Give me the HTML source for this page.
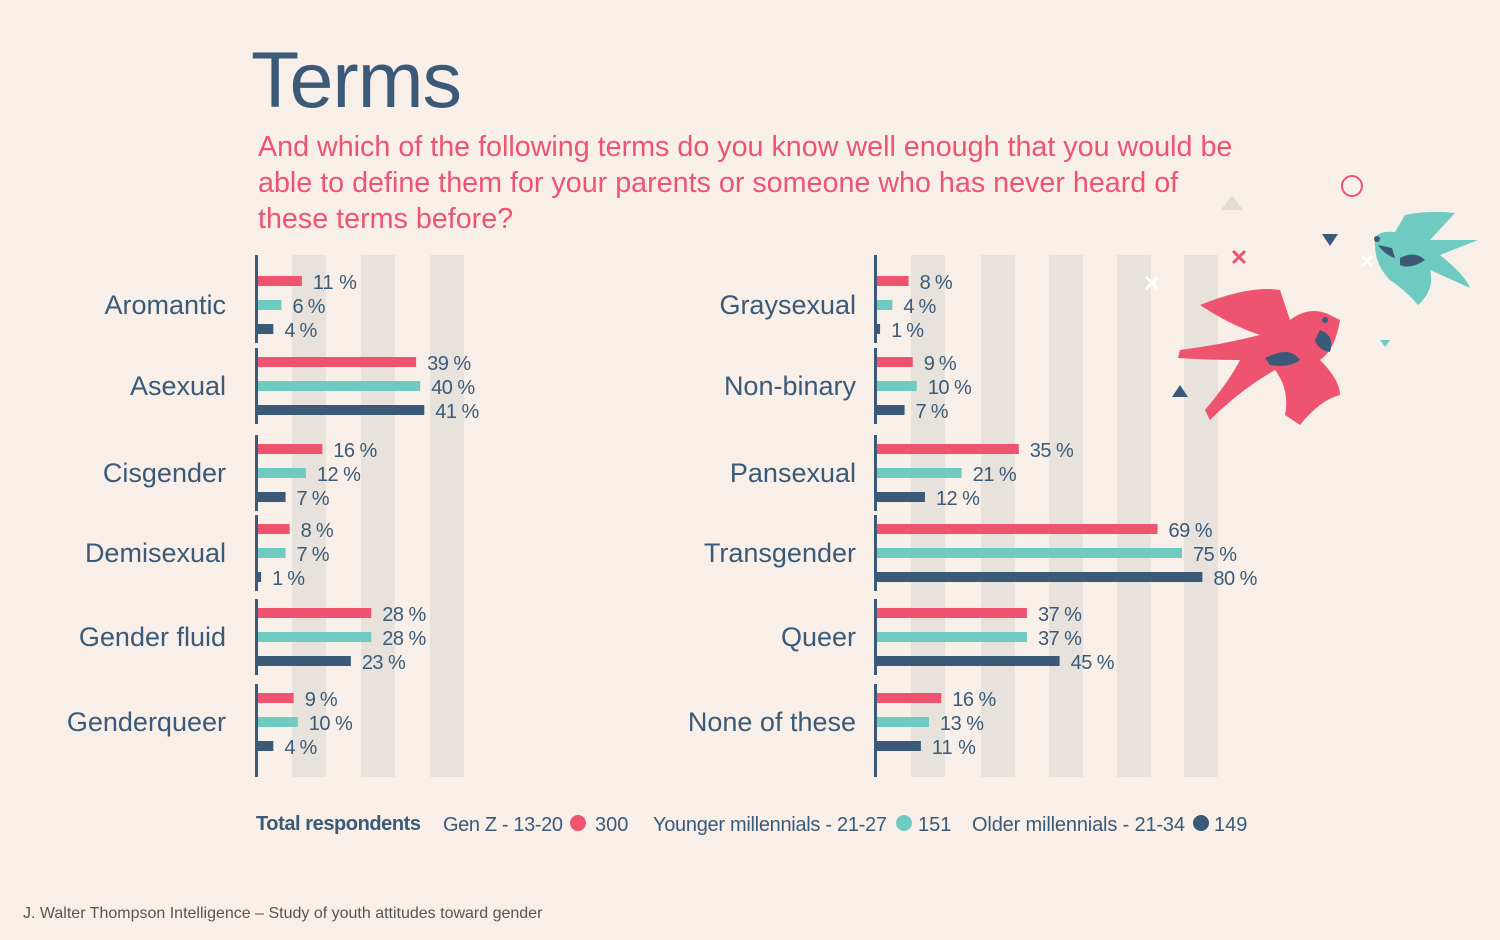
<!DOCTYPE html>
<html><head><meta charset="utf-8">
<style>
body{margin:0;background:#f9efe9;}
#root{position:relative;width:1500px;height:940px;background:#f9efe9;font-family:"Liberation Sans",sans-serif;overflow:hidden;}
.t{position:absolute;white-space:nowrap;}
</style></head><body>
<div id="root">
<div class="t" style="left:251px;top:34px;font-size:79px;color:#3a5a78;letter-spacing:-1px;">Terms</div>
<div class="t" style="left:258px;top:129px;font-size:28.7px;line-height:36px;color:#ee5470;">And which of the following terms do you know well enough that you would be<br>able to define them for your parents or someone who has never heard of<br>these terms before?</div>
<svg id="chart" width="1500" height="940" style="position:absolute;left:0;top:0;"></svg>
<div class="t" style="left:23px;top:905px;font-size:16px;color:#555;">J. Walter Thompson Intelligence – Study of youth attitudes toward gender</div>
</div>
<script>
const leftCats=["Aromantic","Asexual","Cisgender","Demisexual","Gender fluid","Genderqueer"];
const leftGenZ=[11,39,16,8,28,9];
const leftYoung=[6,40,12,7,28,10];
const leftOld=[4,41,7,1,23,4];
const rightCats=["Graysexual","Non-binary","Pansexual","Transgender","Queer","None of these"];
const rightGenZ=[8,9,35,69,37,16];
const rightYoung=[4,10,21,75,37,13];
const rightOld=[1,7,12,80,45,11];
const legendLabels=["Gen Z - 13-20","Younger millennials - 21-27","Older millennials - 21-34"];
const legendCounts=[300,151,149];

const NS="http://www.w3.org/2000/svg";
const svg=document.getElementById('chart');
const COL=["#ee5470","#6fcbc2","#3a5a78"];
const groupY=[305,386,473,553,637,722];
const PX=4.08;
function mk(tag,attrs){const e=document.createElementNS(NS,tag);for(const k in attrs)e.setAttribute(k,attrs[k]);svg.appendChild(e);return e;}
function xs(x0,v){return x0+v*PX;}
[[292,361,430],[911,981,1049,1117,1184]].forEach(arr=>arr.forEach(bx=>{
 const r=mk('rect',{x:bx,y:255,width:34,height:522,fill:'#e7e2dc'});
 
 
}));
function panel(x0,cats,series,labelRight){
 cats.forEach((c,i)=>{
  const gy=groupY[i];
  const top=i===0?255:gy-38, bot=i===cats.length-1?777:gy+38;
  const ax=mk('rect',{x:x0-2,y:top,width:3,height:bot-top,fill:'#3a5a78'});
  
  
  const tl=mk('text',{x:labelRight,y:gy+9,'text-anchor':'end','font-size':27,fill:'#3a5a78','font-family':'Liberation Sans, sans-serif'});
  tl.textContent=c;
  
  
  series.forEach((s,j)=>{
   const y=gy-24+j*24;
   const v=s[i];
   const b=mk('rect',{x:x0+1,y:y-5,width:Math.max(xs(x0,v)-x0-1,3),height:10,fill:COL[j]});
   
   
   const vl=mk('text',{x:xs(x0,v)+11,y:y+8,'font-size':20,fill:'#3a5a78','font-family':'Liberation Sans, sans-serif','textLength':(String(v).length*11+22)});
   vl.textContent=v+' %';
   
   
  });
 });
}
panel(257,leftCats,[leftGenZ,leftYoung,leftOld],226);
panel(876,rightCats,[rightGenZ,rightYoung,rightOld],856);
const lt=mk('text',{x:256,y:830,'font-size':20,'font-weight':'bold',fill:'#3a5a78','font-family':'Liberation Sans, sans-serif','textLength':165});
lt.textContent='Total respondents';


const lx=[[443,578,595,120],[653,904,918,234],[972,1201,1214,213]];
legendLabels.forEach((l,i)=>{
 const a=mk('text',{x:lx[i][0],y:831,'font-size':20,fill:'#3a5a78','font-family':'Liberation Sans, sans-serif','textLength':lx[i][3]});
 a.textContent=l;
 
 
 const d=mk('circle',{cx:lx[i][1],cy:823,r:8,fill:COL[i]});
 
 
 const n=mk('text',{x:lx[i][2],y:831,'font-size':20,fill:'#3a5a78','font-family':'Liberation Sans, sans-serif'});
 n.textContent=legendCounts[i];
 
 
});
</script>
<svg width="1500" height="940" style="position:absolute;left:0;top:0;pointer-events:none;">
<circle cx="1352" cy="186" r="10" fill="none" stroke="#ee5470" stroke-width="2"/>
<polygon points="1232,195 1221,210 1243,210" fill="#e2dcd6"/>
<polygon points="1322,234 1338,234 1330,246" fill="#3a5a78"/>
<polygon points="1380,340 1390,340 1385,347" fill="#6fcbc2"/>
<polygon points="1180,385 1172,397 1188,397" fill="#3a5a78"/>
<path d="M1233,251 l12,12 M1245,251 l-12,12" stroke="#ee5470" stroke-width="3"/>
<path d="M1146,277 l12,12 M1158,277 l-12,12" stroke="#fff" stroke-width="3"/>
<path d="M1200,305 Q1250,285 1280,290 L1290,320 Q1310,305 1330,315 L1340,320 Q1335,350 1320,360 Q1340,380 1340,395 Q1320,400 1300,425 L1285,415 Q1290,390 1275,370 Q1240,390 1210,420 L1205,410 Q1230,380 1240,360 Q1210,360 1178,358 L1180,350 Q1220,345 1260,335 Q1230,325 1200,305 Z" fill="#ee5470"/>
<path d="M1265,358 Q1290,345 1300,360 Q1290,368 1270,365 Z" fill="#3a5a78"/>
<path d="M1320,330 Q1335,335 1330,352 Q1318,350 1315,340 Z" fill="#3a5a78"/>
<circle cx="1325" cy="320" r="3" fill="#3a5a78"/>
<path d="M1405,215 Q1430,210 1455,213 L1430,240 Q1455,240 1478,240 L1440,255 Q1465,275 1470,288 L1430,270 Q1435,290 1418,305 Q1405,290 1390,280 Q1375,265 1375,245 Q1372,230 1395,232 Z" fill="#6fcbc2"/>
<path d="M1400,258 Q1415,250 1425,260 Q1410,270 1400,265 Z" fill="#3a5a78"/>
<path d="M1378,245 Q1385,255 1395,258 L1392,248 Z" fill="#3a5a78"/>
<circle cx="1377" cy="239" r="3" fill="#3a5a78"/>
<path d="M1362,256 l10,10 M1372,256 l-10,10" stroke="#fff" stroke-width="3"/>
</svg>
</body></html>
